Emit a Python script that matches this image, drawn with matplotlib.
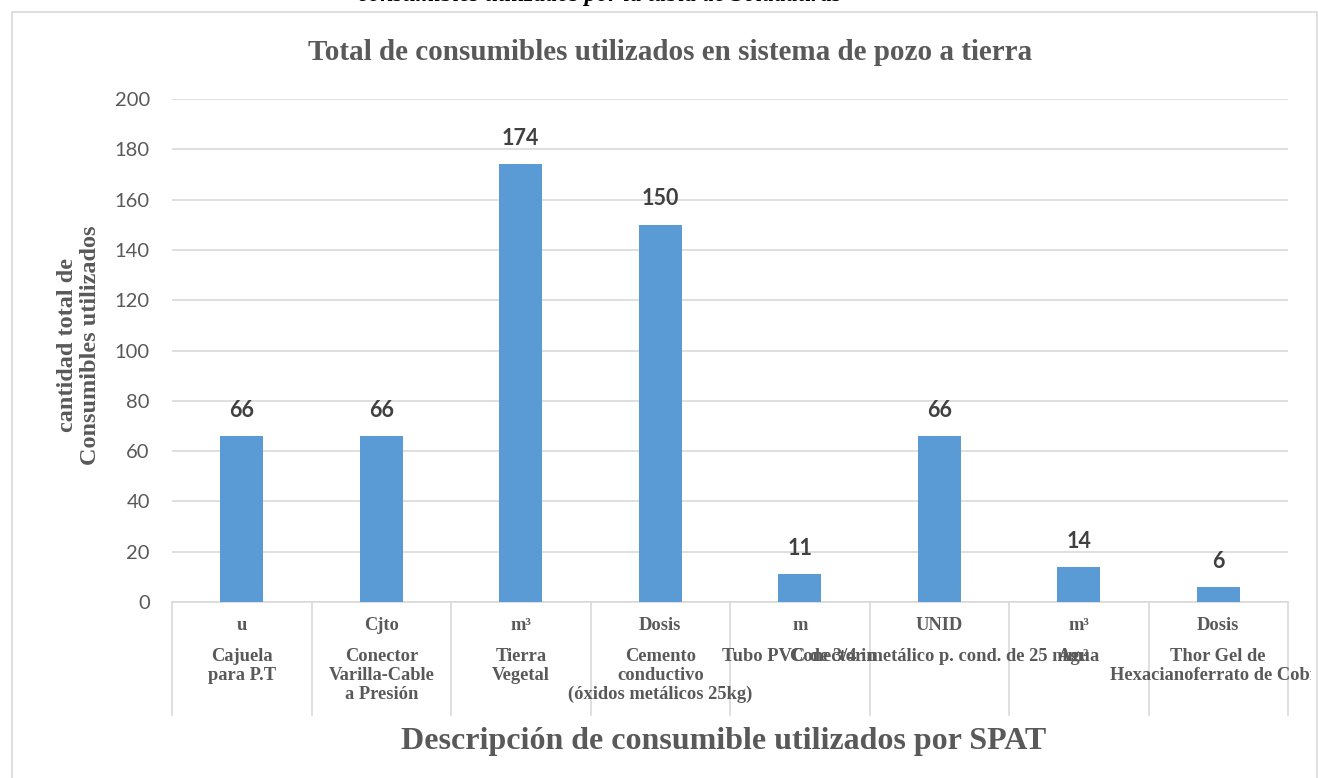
import matplotlib
matplotlib.use("Agg")
import matplotlib.pyplot as plt
from matplotlib.patches import Rectangle
from matplotlib.transforms import Bbox

units = ["u", "Cjto", "m³", "Dosis", "m", "UNID", "m³", "Dosis"]
names = ["Cajuela\npara P.T",
         "Conector\nVarilla-Cable\na Presión",
         "Tierra\nVegetal",
         "Cemento\nconductivo\n(óxidos metálicos 25kg)",
         "Tubo PVC de 3/4 in",
         "Conector metálico p. cond. de 25 mm²",
         "Agua",
         "Thor Gel de\nHexacianoferrato de Cobre"]
values = [66, 66, 174, 150, 11, 66, 14, 6]
yticks = [0, 20, 40, 60, 80, 100, 120, 140, 160, 180, 200]

gray = "#595959"
grid = "#D9D9D9"
bar_color = "#5B9BD5"
serif = "Liberation Serif"
sans = "Lato"

W, H = 1318, 778
fig = plt.figure(figsize=(W / 100, H / 100), dpi=100)

# chart area border
fig.patches.append(Rectangle((12 / W, -0.05), (1317 - 12) / W, (H - 12) / H + 0.05,
                             transform=fig.transFigure, fill=False,
                             edgecolor=grid, linewidth=1.2))

# clipped caption from the document above the chart
fig.text(600 / W, 1 - 1.5 / H, "consumibles utilizados por la tabla de Soldaduras",
         ha="center", va="baseline", fontsize=17, fontweight="bold",
         style="italic", family=serif, color="black")

ax = fig.add_axes([172 / W, 1 - 602 / H, (1288 - 172) / W, (602 - 99) / H])
x = list(range(len(values)))
ax.bar(x, values, width=0.31, color=bar_color, zorder=3)
ax.set_xlim(-0.5, len(values) - 0.5)
ax.set_ylim(0, 200)
ax.set_yticks(yticks)
ax.yaxis.grid(True, color=grid, linewidth=1.2, zorder=0)
for s in ["top", "right", "left"]:
    ax.spines[s].set_visible(False)
ax.spines["bottom"].set_color(grid)
ax.spines["bottom"].set_linewidth(1.2)
ax.tick_params(axis="y", length=0, pad=16, labelsize=14.5, labelcolor=gray)
ax.tick_params(axis="x", length=0, labelbottom=False)
for t in ax.get_yticklabels():
    t.set_family(sans)

for xi, v in zip(x, values):
    ax.annotate(str(v), (xi, v), xytext=(0, 11), textcoords="offset points",
                ha="center", va="bottom", fontsize=15.5, fontweight="bold",
                family=sans, color="#404040")

# category table below the axis
xt = ax.get_xaxis_transform()
for b in range(len(values) + 1):
    ax.plot([b - 0.5, b - 0.5], [0, -113 / 503], transform=xt, color=grid,
            linewidth=1.2, clip_on=False)

clip = Bbox.from_extents(13, 0, 1311, H)
for xi, u, n in zip(x, units, names):
    ax.text(xi, -24 / 503, u, transform=xt, ha="center", va="center",
            fontsize=13.3, fontweight="bold", family=serif, color=gray)
    t = ax.text(xi, -46 / 503, n, transform=xt, ha="center", va="top",
                fontsize=13.3, fontweight="bold", family=serif, color=gray,
                linespacing=1.15)
    t.set_clip_box(clip)
    t.set_clip_on(True)

fig.text(670 / W, 1 - 53 / H,
         "Total de consumibles utilizados en sistema de pozo a tierra",
         ha="center", va="center", fontsize=21, fontweight="bold",
         family=serif, color=gray)
fig.text(724 / W, 1 - 741 / H, "Descripción de consumible utilizados por SPAT",
         ha="center", va="center", fontsize=23, fontweight="bold",
         family=serif, color=gray)
fig.text(79 / W, 1 - 345 / H, "cantidad total de\nConsumibles utilizados",
         ha="center", va="center", rotation=90, fontsize=17.5,
         fontweight="bold", family=serif, color=gray, linespacing=1.1)

fig.savefig("out.png", dpi=100)
